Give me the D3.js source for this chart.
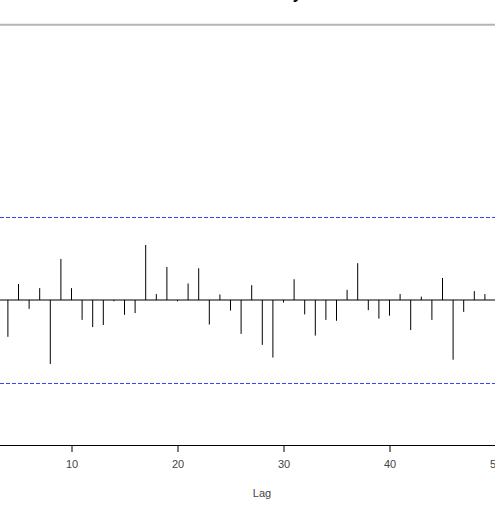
<!DOCTYPE html>
<html>
<head>
<meta charset="utf-8">
<script src="https://cdn.jsdelivr.net/npm/d3@7"></script>
<style>
  html, body { margin: 0; padding: 0; background: #fff; }
  svg { display: block; }
  text { font-family: "Liberation Sans", Arial, sans-serif; }
</style>
</head>
<body>
<svg id="chart" width="495" height="511"></svg>
<script>
// Data (lags 4–49 visible in the cropped view)
const lags = [4,5,6,7,8,9,10,11,12,13,14,15,16,17,18,19,20,21,22,23,24,25,26,27,28,29,30,31,32,33,34,35,36,37,38,39,40,41,42,43,44,45,46,47,48,49];
const acfValues = [-0.087,0.038,-0.021,0.028,-0.151,0.097,0.028,-0.047,-0.064,-0.059,-0.003,-0.035,-0.031,0.130,0.014,0.078,-0.003,0.039,0.075,-0.058,0.013,-0.025,-0.080,0.035,-0.106,-0.136,-0.006,0.049,-0.034,-0.084,-0.047,-0.049,0.024,0.087,-0.024,-0.044,-0.037,0.014,-0.071,0.008,-0.047,0.052,-0.141,-0.028,0.021,0.014];
const confBound = 0.196;
const xTicks = [10,20,30,40,50];
const xLabel = "Lag";
const titleText = "Series y";

const svg = d3.select("#chart");

// x: lag 10 -> 71.5, lag 50 -> 495.5
const x = d3.scaleLinear().domain([10, 50]).range([71.5, 495.5]);
// y: 0 -> 300, confBound -> 217
const y = d3.scaleLinear().domain([0, confBound]).range([300, 217]);

// title (mostly above view)
svg.append("text")
  .attr("x", 271).attr("y", -1.5)
  .attr("text-anchor", "middle")
  .attr("font-size", 16).attr("font-weight", "bold")
  .attr("fill", "#000")
  .text(titleText);

// top gray rule
svg.append("line")
  .attr("x1", 0).attr("x2", 495)
  .attr("y1", 24.8).attr("y2", 24.8)
  .attr("stroke", "#b4b4b4").attr("stroke-width", 2);

// confidence bounds
[confBound, -confBound].forEach(v => {
  svg.append("line")
    .attr("x1", 0).attr("x2", 495)
    .attr("y1", Math.round(y(v)) + 0.5).attr("y2", Math.round(y(v)) + 0.5)
    .style("stroke", "#4040ff").style("stroke-width", "1px")
    .style("stroke-dasharray", "4 2");
});

// zero line
svg.append("line")
  .attr("x1", 0).attr("x2", 495)
  .attr("y1", y(0)).attr("y2", y(0))
  .attr("stroke", "#000").attr("stroke-width", 1);

// spikes
svg.append("g").selectAll("line")
  .data(lags.map((l, i) => ({ lag: l, v: acfValues[i] })))
  .join("line")
  .attr("x1", d => x(d.lag)).attr("x2", d => x(d.lag))
  .attr("y1", y(0)).attr("y2", d => y(d.v))
  .attr("stroke", "#000").attr("stroke-width", 1);

// x axis
const axis = d3.axisBottom(x).tickValues(xTicks).tickSize(7).tickPadding(8).tickSizeOuter(0);
const gAxis = svg.append("g").attr("transform", "translate(0,445)").call(axis);
gAxis.select(".domain").remove();
gAxis.append("line").attr("x1", 0).attr("x2", 495).attr("y1", 0.5).attr("y2", 0.5).attr("stroke", "#000");
gAxis.selectAll(".tick line").attr("stroke", "#000");
gAxis.selectAll(".tick text").attr("font-size", 11).attr("fill", "#444")
  .attr("font-family", "'Liberation Sans', Arial, sans-serif");

svg.append("text")
  .attr("x", 262).attr("y", 497)
  .attr("text-anchor", "middle")
  .attr("font-size", 11).attr("fill", "#444")
  .text(xLabel);
</script>
</body>
</html>
